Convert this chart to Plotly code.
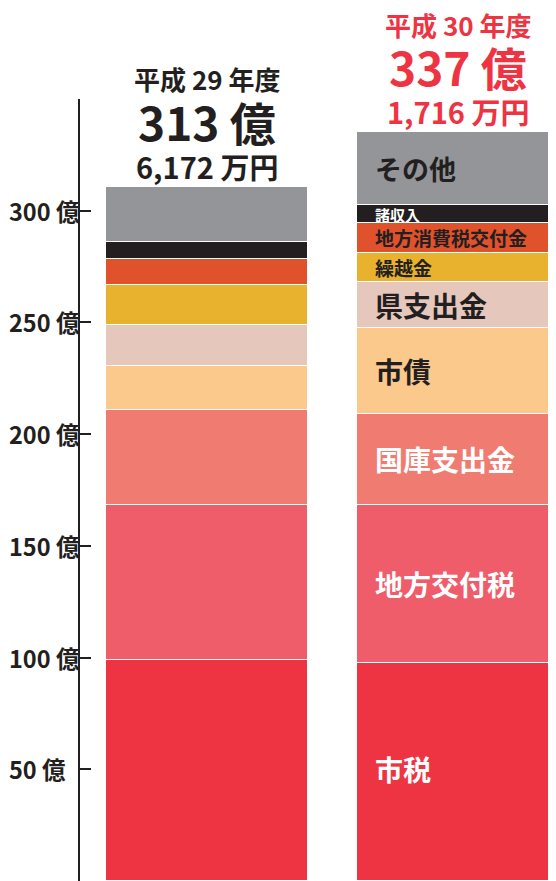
import plotly.graph_objects as go

# ---- data ----
categories = ["平成29年度", "平成30年度"]
items = ["市税", "地方交付税", "国庫支出金", "市債", "県支出金", "繰越金", "地方消費税交付金", "諸収入", "その他"]
h29 = [98.8, 69.4, 42.7, 19.8, 18.3, 17.9, 11.7, 7.4, 24.8]
h30 = [97.4, 70.8, 41.0, 38.4, 20.3, 13.3, 13.3, 8.0, 32.6]
colors = ["#ee3442", "#ef5c6a", "#f07b70", "#fbc98b", "#e5c7bc", "#e8b22e", "#e0522c", "#231f20", "#939598"]
label_colors = ["white", "white", "white", "#231f20", "#231f20", "#231f20", "#231f20", "white", "#231f20"]
label_sizes = [28, 28, 28, 28, 28, 19, 19, 15, 27]
year_labels = ["平成 29 年度", "平成 30 年度"]
total_oku = ["313 億", "337 億"]
total_man = ["6,172 万円", "1,716 万円"]
header_colors = ["#231f20", "#ee3442"]
tick_vals = [50, 100, 150, 200, 250, 300]
tick_text = ["50 億", "100 億", "150 億", "200 億", "250 億", "300 億"]

FONT = "Noto Sans CJK JP"
OFF = 8                      # page body margin
W, H = 556 - OFF, 881 - OFF
ML, MT = 80 - OFF, 99 - OFF
BARW = 0.805

fig = go.Figure()
for i, name in enumerate(items):
    fig.add_trace(go.Bar(
        x=categories, y=[h29[i], h30[i]], name=name,
        marker=dict(color=colors[i], line=dict(color="white", width=1.5)),
        width=BARW, hoverinfo="skip", showlegend=False,
    ))

ann = []
# segment labels on the right bar
cum = 0
for i, name in enumerate(items):
    mid = cum + h30[i] / 2
    cum += h30[i]
    ann.append(dict(x=1 - BARW / 2, y=mid, xref="x", yref="y", text=name, showarrow=False,
                    xanchor="left", yanchor="middle", xshift=16, yshift=(3 if i == 0 else 0),
                    font=dict(family=FONT, size=label_sizes[i], color=label_colors[i], weight="bold")))

# headers above bars
totals = [sum(h29), sum(h30)]
for j, cat in enumerate(categories):
    c = header_colors[j]
    ann.append(dict(x=cat, y=totals[j], xref="x", yref="y", text=year_labels[j], showarrow=False,
                    yanchor="middle", yshift=108, font=dict(family=FONT, size=26, color=c, weight="bold")))
    ann.append(dict(x=cat, y=totals[j], xref="x", yref="y", text=total_oku[j], showarrow=False,
                    yanchor="middle", yshift=66, font=dict(family=FONT, size=46, color=c, weight="bold")))
    ann.append(dict(x=cat, y=totals[j], xref="x", yref="y", text=total_man[j], showarrow=False,
                    yanchor="middle", yshift=21, font=dict(family=FONT, size=29, color=c, weight="bold")))

# y tick labels (left aligned)
for v, t in zip(tick_vals, tick_text):
    ann.append(dict(x=(0 - ML) / (W - ML), y=v, xref="paper", yref="y", text=t, showarrow=False,
                    xanchor="left", yanchor="middle", borderpad=0,
                    font=dict(family=FONT, size=23.5, color="#231f20", weight="bold")))

fig.update_layout(
    barmode="stack",
    width=W, height=H,
    margin=dict(l=ML, r=0, t=MT, b=0, pad=0),
    paper_bgcolor="white", plot_bgcolor="white",
    bargap=0,
    annotations=ann,
    xaxis=dict(type="category", range=[-0.506, 1.39], visible=False, fixedrange=True),
    yaxis=dict(range=[0, 350], showgrid=False, zeroline=False, showline=True, linewidth=2,
               linecolor="#231f20", ticks="inside", ticklen=11, tickwidth=2, tickcolor="#231f20",
               tickvals=tick_vals + [350], showticklabels=False, fixedrange=True),
)
fig.write_html("out.html")
